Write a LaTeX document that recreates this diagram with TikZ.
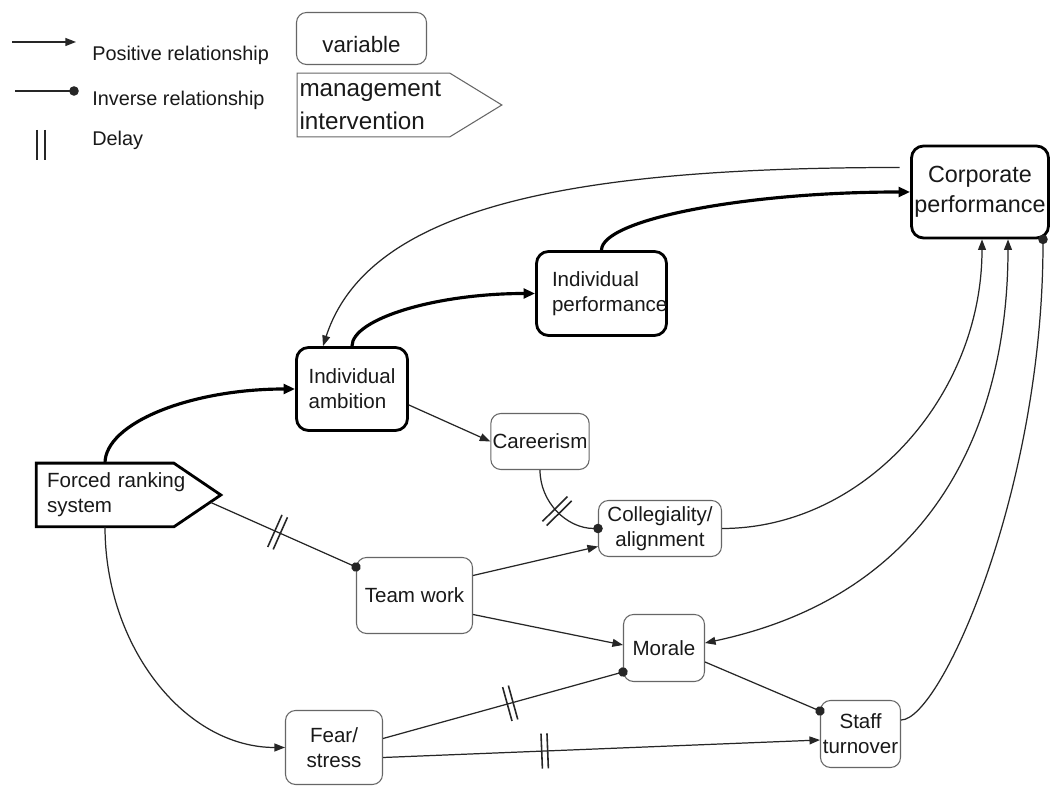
\documentclass[tikz,border=0pt]{standalone}
\usepackage{fontspec}
\setmainfont{Liberation Sans}
\usetikzlibrary{arrows.meta,decorations.markings}

\begin{document}
\begin{tikzpicture}[
  x=0.02cm, y=0.02cm,
  every node/.style={text=black!90},
  varbox/.style={rectangle, rounded corners=0.2cm, draw=black!60, line width=0.6pt, font=\fontsize{11.7}{14.2}\selectfont, align=center, inner sep=1pt},
  keybox/.style={varbox, draw=black, line width=1.6pt, rounded corners=0.24cm},
  leverbox/.style={rectangle, inner sep=0pt, align=left},
  legtext/.style={anchor=west, inner sep=0pt, font=\fontsize{11.3}{13}\selectfont},
  posrel/.style={draw=black!85, line width=0.7pt, -{Triangle[length=6pt,width=4.5pt]}},
  thickrel/.style={draw=black, line width=1.8pt, -{Triangle[length=6.5pt,width=5.5pt]}},
  invrel/.style={draw=black!85, line width=0.7pt, -{Circle[length=5.4pt]}, shorten >=-2.7pt},
  delaymark/.style={postaction={decorate}, decoration={markings, mark=at position #1 with {\draw[-, line width=0.9pt, shorten >=0pt, shorten <=0pt] (-1.7pt,-10pt) -- (-1.7pt,10pt) (1.7pt,-10pt) -- (1.7pt,10pt);}}}
  ]
  \path[fill=white, use as bounding box] (0,0) rectangle (1051,787);

  % Legend
  \coordinate (posa) at (12,745);
  \coordinate (posb) at (76,745);
  \draw[posrel] (posa) -- (posb);
  \node[legtext] (lpos) at (92,732) {Positive relationship};
  \coordinate (inva) at (15,696);
  \coordinate (invb) at (74,696);
  \draw[invrel] (inva) -- (invb);
  \node[legtext] (linv) at (92,687) {Inverse relationship};
  \coordinate (dela) at (37,657);
  \coordinate (delb) at (37,627);
  \coordinate (delc) at (45,657);
  \coordinate (deld) at (45,627);
  \draw[line width=0.9pt, black!85] (dela) -- (delb) (delc) -- (deld);
  \node[legtext] (ldel) at (92,647) {Delay};

  \node[varbox, font=\fontsize{12.7}{15}\selectfont, minimum width=2.6cm, minimum height=1.04cm, text height=16.5pt, text depth=0pt] (varkey) at (361.5,748.5) {variable};
  \node[leverbox, font=\fontsize{13.8}{19}\selectfont, minimum width=4.08cm, minimum height=1.26cm, inner xsep=0.04cm, text width=4cm] (mgmtkey) at (399.5,682) {management\\intervention};
  \draw[draw=black!60, line width=0.6pt] (mgmtkey.north west) -- ([xshift=-1.04cm]mgmtkey.north east) -- (mgmtkey.east) -- ([xshift=-1.04cm]mgmtkey.south east) -- (mgmtkey.south west) -- cycle;

  % Variables
  \node[keybox, font=\fontsize{13.3}{17}\selectfont, minimum width=2.74cm, minimum height=1.84cm] (corp) at (980,595) {Corporate\\performance};
  \node[keybox, minimum width=2.6cm, minimum height=1.68cm, text width=1.98cm, inner xsep=0.31cm, align=left] (indperf) at (601.5,493.5) {Individual\\performance};
  \node[keybox, minimum width=2.22cm, minimum height=1.66cm, align=left] (indamb) at (352,398) {Individual\\ambition};
  \node[varbox, minimum width=1.94cm, minimum height=1.12cm] (career) at (540,345.5) {Careerism};
  \node[varbox, minimum width=2.46cm, minimum height=1.12cm] (colleg) at (660,258.5) {Collegiality/\\alignment};
  \node[varbox, minimum width=2.32cm, minimum height=1.52cm] (team) at (414.5,191.5) {Team work};
  \node[varbox, minimum width=1.62cm, minimum height=1.34cm] (morale) at (664,139) {Morale};
  \node[varbox, minimum width=1.94cm, minimum height=1.48cm] (fear) at (334,39.5) {Fear/\\stress};
  \node[varbox, minimum width=1.6cm, minimum height=1.34cm] (staff) at (860.5,53) {Staff\\turnover};

  % Intervention
  \node[leverbox, font=\fontsize{11.7}{14.2}\selectfont, minimum width=3.68cm, minimum height=1.26cm, inner xsep=0.21cm, text width=3.26cm] (forced) at (128.5,292) {Forced ranking\\system};
  \draw[line width=1.6pt] (forced.north west) -- ([xshift=-0.94cm]forced.north east) -- (forced.east) -- ([xshift=-0.94cm]forced.south east) -- (forced.south west) -- cycle;

  % Main chain
  \draw[thickrel] ([xshift=-0.47cm]forced.north) to[out=90, in=180, out distance=0.8cm, in distance=2.1cm] (indamb.west);
  \draw[thickrel] (indamb.north) to[out=90, in=180, out distance=0.54cm, in distance=2cm] (indperf.west);
  \draw[thickrel] (indperf.north) to[out=90, in=180, out distance=0.6cm, in distance=3.36cm] (corp.west);
  \draw[posrel] ([xshift=-0.21cm, yshift=0.49cm]corp.west) to[out=180, in=72, out distance=6.36cm, in distance=3cm] ([xshift=-0.58cm]indamb.north);

  % Side effects
  \draw[posrel] ([yshift=-0.32cm]indamb.east) -- (career.west);
  \draw[invrel, delaymark=0.5] (career.south) to[out=-90, in=180, out distance=0.64cm, in distance=0.63cm] (colleg.west);
  \draw[invrel, delaymark=0.46] ([xshift=-0.2cm, yshift=-0.15cm]forced.east) -- ([yshift=-0.2cm]team.north west);
  \draw[posrel] ([xshift=-0.47cm]forced.south) to[out=-90, in=180, out distance=2.4cm, in distance=2cm] (fear.west);
  \draw[posrel] ([yshift=0.4cm]team.east) -- ([yshift=-0.36cm]colleg.west);
  \draw[posrel] ([yshift=-0.38cm]team.east) -- ([yshift=0.06cm]morale.west);
  \draw[invrel, delaymark=0.53] ([yshift=0.18cm]fear.east) -- ([yshift=0.2cm]morale.south west);
  \draw[posrel, delaymark=0.37] ([yshift=-0.2cm]fear.east) -- ([yshift=-0.12cm]staff.west);
  \draw[invrel] ([yshift=-0.28cm]morale.east) -- ([yshift=-0.22cm]staff.north west);

  % Back to corporate performance
  \draw[posrel] (colleg.east) to[out=0, in=-90, out distance=2.84cm, in distance=3.14cm] ([xshift=0.04cm]corp.south);
  \draw[posrel, {Triangle[length=6pt,width=4.5pt]}-{Triangle[length=6pt,width=4.5pt]}] ([yshift=0.1cm]morale.east) to[out=12, in=-90, out distance=5.2cm, in distance=3cm] ([xshift=0.56cm]corp.south);
  \draw[invrel] ([yshift=0.28cm]staff.east) to[out=0, in=-90, out distance=0.8cm, in distance=5cm] ([xshift=1.26cm]corp.south);
\end{tikzpicture}
\end{document}
